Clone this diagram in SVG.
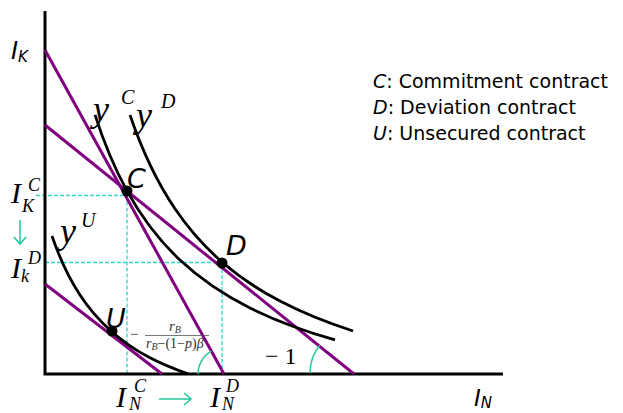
<svg xmlns="http://www.w3.org/2000/svg" width="623" height="413" viewBox="0 0 623 413">
<style>
.ax{stroke:#000;stroke-width:3;fill:none}
.pl{stroke:#800080;stroke-width:3;fill:none}
.cv{stroke:#000;stroke-width:2.8;fill:none}
.ds{stroke:#33D6C0;stroke-width:1.3;stroke-dasharray:4 2;fill:none}
.gr{stroke:#22C99C;stroke-width:1.5;fill:none}
.sans{font-family:"DejaVu Sans",sans-serif;font-style:oblique;fill:#000}
.ser{font-family:"Liberation Serif","Times New Roman",serif;font-style:italic;fill:#000}
.leg{font-family:"DejaVu Sans",sans-serif;font-size:19px;fill:#000}
.dot{fill:#000}
</style>
<rect width="623" height="413" fill="#fff"/>
<g id="guides">
<path class="ds" d="M36,195.5H127M127,195.5V374M45,262.5H222M222,263V374"/>
</g>
<g id="axes">
<path class="ax" d="M45,11V375M43.5,374H503"/>
</g>
<g id="budget-lines">
<path class="pl" d="M45,50L224,374"/>
<path class="pl" d="M45,125L354,374"/>
<path class="pl" d="M45,284L162,374"/>
</g>
<g id="isoquants">
<path class="cv" d="M95,114.9C105.67,148.07 116.33,171.53 127,190.9C144.67,222.97 162.33,243.53 180,260.1C203.33,281.99 226.67,296.36 250,308C278.33,322.14 306.67,331.88 335,339.9"/>
<path class="cv" d="M130,115C145,159.07 160,186.64 175,208.8C190.67,231.94 206.33,248.39 222,262C241.33,278.8 260.67,290.97 280,301.1C304.33,313.85 328.67,323.24 353,331"/>
<path class="cv" d="M52,236C61.33,263.31 70.67,280.82 80,295C90.33,310.7 100.67,321.79 111,330.95C136.67,353.69 162.33,364.9 188,373.9"/>
</g>
<g id="angles">
<path class="gr" d="M198,374A26,26 0 0 1 211.4,351.2"/>
<path class="gr" d="M310,373A44,44 0 0 1 320,345"/>
</g>
<g id="arrows">
<path class="gr" d="M20,220V244M14,237L20,244L26,237"/>
<path class="gr" d="M159,399H191M184,393L191,399L184,405"/>
</g>
<g id="point-C"><circle class="dot" cx="127" cy="191" r="5.5"/><text class="sans" x="127" y="188" font-size="27">C</text></g>
<g id="point-D"><circle class="dot" cx="222" cy="263" r="5.5"/><text class="sans" x="226" y="255" font-size="27">D</text></g>
<g id="point-U"><circle class="dot" cx="112" cy="331" r="5.5"/><text class="sans" x="106" y="328" font-size="27">U</text></g>
<g id="axis-labels">
<text class="sans" x="11" y="59" font-size="24">I<tspan font-size="15" dy="3">K</tspan></text>
<text class="sans" x="474" y="406" font-size="23">I<tspan font-size="15" dy="2">N</tspan></text>
</g>
<g id="curve-labels">
<text class="ser" x="93" y="121" font-size="36">y</text><text class="ser" x="121" y="104" font-size="20">C</text>
<text class="ser" x="136" y="127" font-size="36">y</text><text class="ser" x="161" y="108" font-size="20">D</text>
<text class="ser" x="60" y="243" font-size="36">y</text><text class="ser" x="81" y="227" font-size="20">U</text>
</g>
<g id="value-labels">
<text class="ser" x="11" y="203" font-size="30">I</text><text class="ser" x="28" y="191" font-size="18">C</text><text class="ser" x="22" y="212" font-size="18">K</text>
<text class="ser" x="11" y="278" font-size="30">I</text><text class="ser" x="28" y="264" font-size="18">D</text><text class="ser" x="21" y="282" font-size="18">k</text>
<text class="ser" x="116" y="407" font-size="30">I</text><text class="ser" x="134" y="392" font-size="18">C</text><text class="ser" x="129" y="410" font-size="18">N</text>
<text class="ser" x="210" y="407" font-size="30">I</text><text class="ser" x="226" y="392" font-size="18">D</text><text class="ser" x="222" y="410" font-size="18">N</text>
</g>
<g id="slope-labels" font-family="Liberation Serif,serif" fill="#333">
<text x="130" y="339" font-size="15">−</text>
<text x="169" y="331" font-size="15" font-style="italic">r<tspan font-size="10" dy="2">B</tspan></text>
<path d="M145,335.5H209" stroke="#555" stroke-width="0.8"/>
<text x="146" y="348" font-size="14"><tspan font-style="italic">r</tspan><tspan font-size="10" dy="2" font-style="italic">B</tspan><tspan dy="-2">−(1−</tspan><tspan font-style="italic">p</tspan>)<tspan font-style="italic">β</tspan></text>
<text x="265" y="364" font-size="24" fill="#000">− 1</text>
</g>
<g id="legend">
<text class="leg" x="373" y="88"><tspan font-style="oblique">C</tspan>: Commitment contract</text>
<text class="leg" x="373" y="114"><tspan font-style="oblique">D</tspan>: Deviation contract</text>
<text class="leg" x="373" y="140"><tspan font-style="oblique">U</tspan>: Unsecured contract</text>
</g>
</svg>
